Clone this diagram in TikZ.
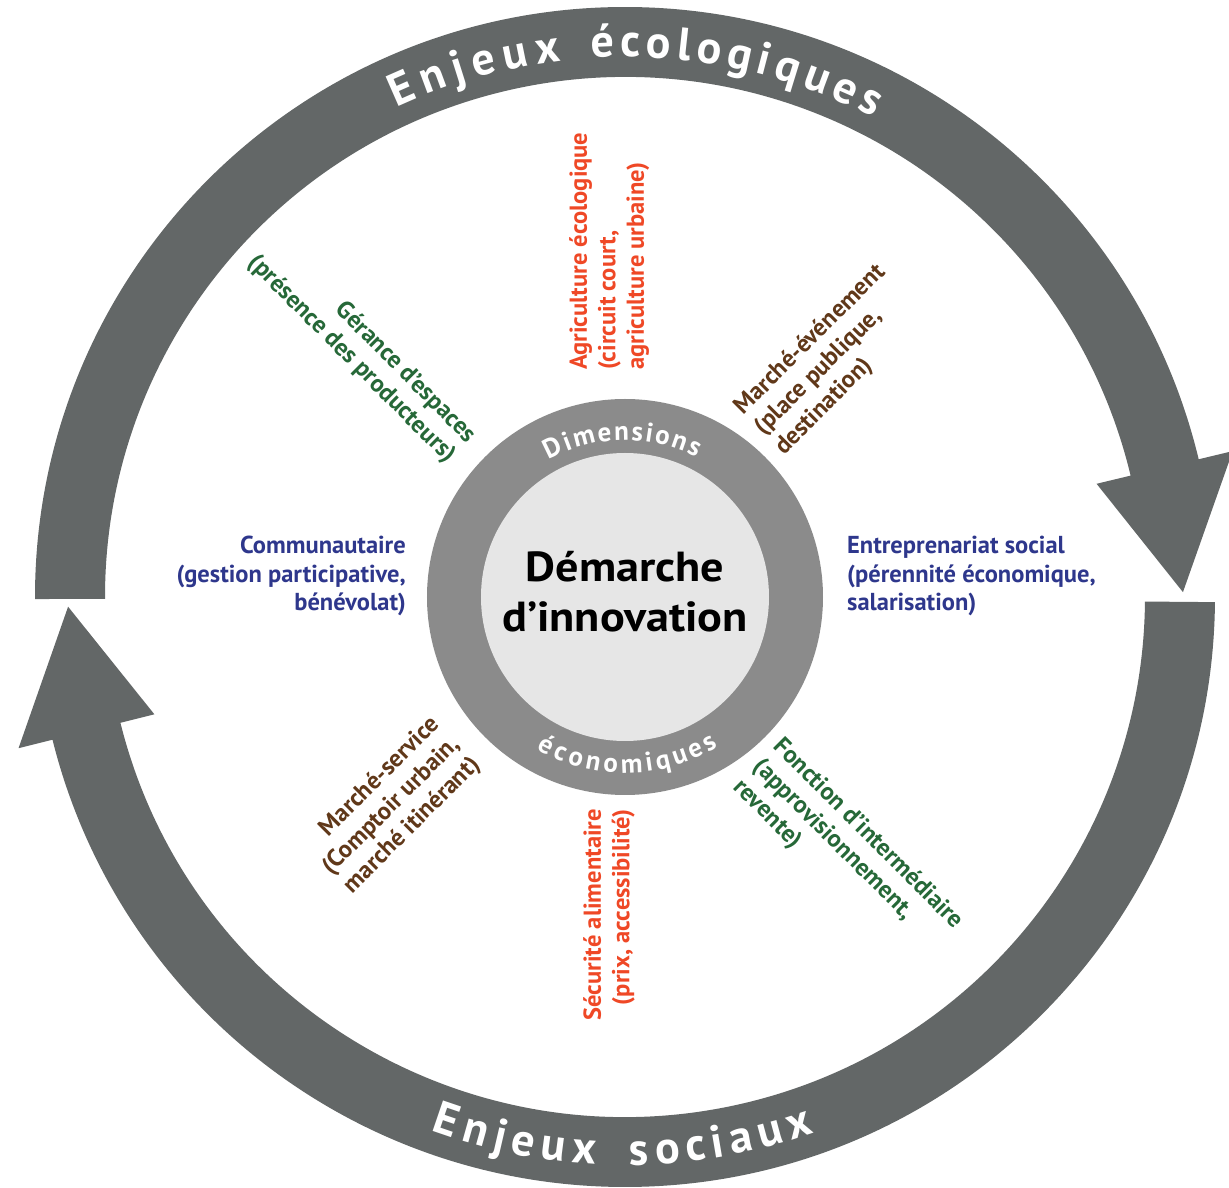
\documentclass[tikz,border=0pt]{standalone}
\usepackage{fontspec}
\setmainfont{PT Sans}
\newfontfamily\widesans[FakeStretch=1.1]{PT Sans}
\usetikzlibrary{decorations.text}
\definecolor{arrowgray}{RGB}{99,103,103}
\definecolor{ringgray}{RGB}{139,139,139}
\definecolor{innergray}{RGB}{230,230,230}
\definecolor{ecored}{RGB}{239,72,38}
\definecolor{brownlab}{RGB}{96,56,25}
\definecolor{greenlab}{RGB}{38,104,56}
\definecolor{bluelab}{RGB}{46,55,140}
\newcommand\ringfont{\bfseries\fontsize{27}{27}\selectfont}
\newcommand\bandfont{\bfseries\fontsize{46}{46}\selectfont}
\tikzset{
  lab/.style={font=\bfseries\fontsize{24.5}{28.5}\selectfont, inner sep=0pt},
  arrowband/.style={fill=arrowgray},
  ringtext/.style={decorate, decoration={text along path, text color=white, text align={fit to path}}},
}
\begin{document}
\begin{tikzpicture}[x=1pt,y=1pt]
\useasboundingbox (-625,-591) rectangle (604,597);
% big circular arrows
\fill[arrowband] (180.2:590) arc[start angle=180.2, end angle=13.5, radius=590]
  -- (13.5:625) -- (0.5:558) -- (13.5:485) -- (13.5:520)
  arc[start angle=13.5, end angle=180.2, radius=520] -- cycle;
\fill[arrowband] (-0.5:590) arc[start angle=-0.5, end angle=-166, radius=590]
  -- (-166:625) -- (-179:557) -- (-166:485) -- (-166:520)
  arc[start angle=-166, end angle=-0.5, radius=520] -- cycle;
% band texts
\path[ringtext, decoration={text={|\bandfont|Enjeux}}] (115:540) arc[start angle=115, end angle=96.8, radius=540];
\path[ringtext, decoration={text={|\bandfont|écologiques}}] (93.6:540) arc[start angle=93.6, end angle=62.6, radius=540];
\path[ringtext, decoration={text={|\bandfont|Enjeux}}] (250:568) arc[start angle=250, end angle=267, radius=568];
\path[ringtext, decoration={text={|\bandfont|sociaux}}] (270.5:568) arc[start angle=270.5, end angle=289.5, radius=568];
% central ring
\fill[ringgray] (0,0) circle[radius=198];
\fill[innergray] (0,0) circle[radius=144];
\path[ringtext, decoration={text={|\ringfont|Dimensions}}] (119:157) arc[start angle=119, end angle=63, radius=157];
\path[ringtext, decoration={text={|\ringfont|économiques}}] (240:176) arc[start angle=240, end angle=302, radius=176];
\node[font=\widesans\bfseries\fontsize{42}{50}\selectfont, align=center, inner sep=0pt] (title) at (0,5) {Démarche\\d’innovation};
% labels
\node[lab, text=ecored, rotate=90, anchor=north west, align=left] (agri) at (-56,227)
  {Agriculture écologique\\(circuit court,\\agriculture urbaine)};
\node[lab, text=brownlab, rotate=45, anchor=north west, align=left] (event) at (106,194)
  {Marché-événement\\(place publique,\\destination)};
\node[lab, text=greenlab, rotate=-45, anchor=north east, align=right] (gerance) at (-145,166)
  {Gérance d’espaces\\(présence des producteurs)};
\node[lab, text=bluelab, anchor=north east, align=right] (commu) at (-219,61)
  {Communautaire\\(gestion participative,\\bénévolat)};
\node[lab, text=bluelab, anchor=north west, align=left] (entre) at (222,61)
  {Entreprenariat social\\(pérennité économique,\\salarisation)};
\node[lab, text=brownlab, rotate=45, anchor=north east, align=right] (service) at (-197,-116)
  {Marché-service\\(Comptoir urbain,\\marché itinérant)};
\node[lab, text=ecored, rotate=90, anchor=north east, align=right] (secu) at (-42,-212)
  {Sécurité alimentaire\\(prix, accessibilité)};
\node[lab, text=greenlab, rotate=-45, anchor=north west, align=left] (fonction) at (160,-138)
  {Fonction d’intermédiaire\\(approvisionnement,\\revente)};
\end{tikzpicture}
\end{document}
